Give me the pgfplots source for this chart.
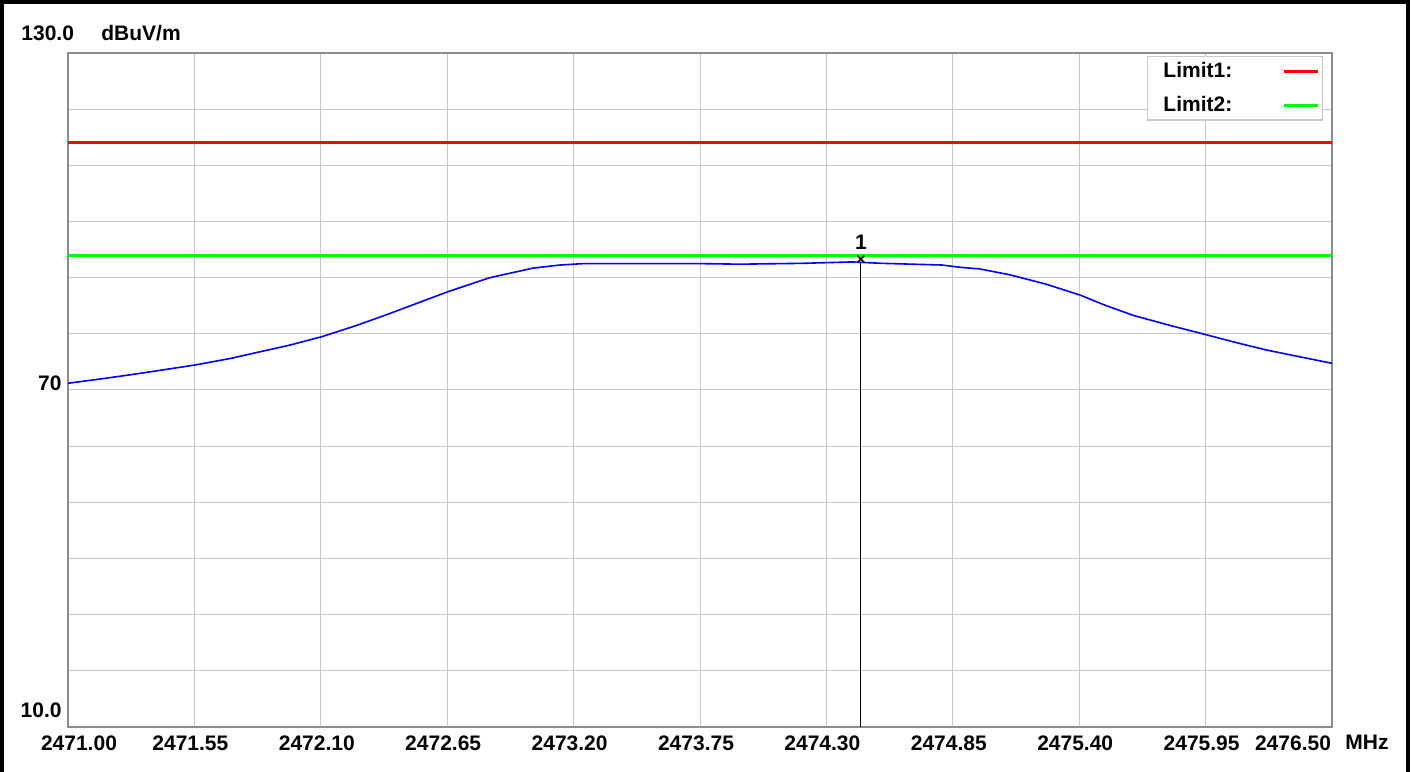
\documentclass[border=0pt]{standalone}
\usepackage{fontspec}
\setmainfont{Liberation Sans}
\usepackage{pgfplots}
\pgfplotsset{compat=1.18}
\definecolor{gridgray}{RGB}{200,200,200}
\definecolor{framegray}{RGB}{140,140,140}
\newcommand{\lbl}{\bfseries\fontsize{10.5}{12}\selectfont}
\begin{document}
\begin{tikzpicture}
\useasboundingbox (-34pt,-22pt) rectangle (672pt,363.5pt);
\begin{axis}[
  at={(0pt,0pt)}, anchor=south west,
  scale only axis, width=632pt, height=337pt,
  xmin=2471, xmax=2476.5, ymin=10, ymax=130,
  xtick={2471,2471.55,2472.1,2472.65,2473.2,2473.75,2474.3,2474.85,2475.4,2475.95,2476.5},
  xticklabels={{\hspace*{15pt}2471.00},2471.55,2472.10,2472.65,2473.20,2473.75,2474.30,2474.85,2475.40,2475.95,{2476.50\hspace*{35pt}}},
  ytick={10,20,...,130}, yticklabels={},
  major tick length=0pt,
  grid=major, grid style={gridgray, line width=0.5pt},
  axis line style={framegray, line width=1.3pt},
  xticklabel style={font=\lbl, xshift=-2pt, inner sep=0pt, anchor=north, yshift=-4pt},
  legend plot pos=right,
  legend style={at={(1,1)}, anchor=north east, xshift=-4.5pt, yshift=-1.5pt,
    draw=gridgray, line width=0.6pt, fill=white, font=\lbl,
    inner xsep=1.5pt, inner ysep=0.2pt, row sep=2.7pt, column sep=0pt,
    nodes={inner xsep=3pt, inner ysep=2.6pt}},
]
\addplot[blue, line width=0.8pt, forget plot] coordinates {
(2471.000,71.2) (2471.139,71.95) (2471.270,72.7) (2471.400,73.5) (2471.553,74.45)
(2471.705,75.6) (2471.835,76.8) (2471.966,78.0) (2472.105,79.5) (2472.249,81.4)
(2472.379,83.3) (2472.510,85.3) (2472.653,87.5) (2472.836,90.0) (2473.023,91.7)
(2473.141,92.25) (2473.241,92.5) (2473.750,92.5) (2473.924,92.4) (2474.194,92.55)
(2474.411,92.8) (2474.542,92.55) (2474.803,92.25) (2474.881,91.85) (2474.968,91.55)
(2475.099,90.5) (2475.251,88.9) (2475.404,86.9) (2475.512,85.1) (2475.634,83.3)
(2475.795,81.5) (2475.956,79.8) (2476.087,78.4) (2476.217,77.1) (2476.361,75.9)
(2476.500,74.75)};
\addplot[red, line width=1.4pt] coordinates {(2471,114) (2476.5,114)};
\addlegendentry{\makebox[60pt][l]{\hspace*{3.5pt}Limit1:}}
\addplot[green, line width=1.4pt] coordinates {(2471,94) (2476.5,94)};
\addlegendentry{\makebox[60pt][l]{\hspace*{3.5pt}Limit2:}}
\addplot[black, line width=0.6pt, forget plot] coordinates {(2474.45,92.8) (2474.45,10)};
\addplot[black, only marks, mark=x, mark size=2.5pt, mark options={line width=0.8pt}, forget plot] coordinates {(2474.45,93.3)};
\node[font=\lbl, anchor=south, inner sep=0pt] at (axis cs:2474.45,94.9) {1};
\end{axis}
\draw[line width=2pt] (-33pt,-23pt) -- (-33pt,362.5pt) -- (669.75pt,362.5pt) -- (669.75pt,-23pt);
\node[font=\lbl, anchor=west, inner sep=0pt] at (-23.5pt,346.75pt) {130.0};
\node[font=\lbl, anchor=west, inner sep=0pt] at (16.5pt,346.75pt) {dBuV/m};
\node[font=\lbl, anchor=east, inner sep=0pt] at (-3pt,172pt) {70};
\node[font=\lbl, anchor=east, inner sep=0pt] at (-3pt,8.5pt) {10.0};
\node[font=\lbl, anchor=west, inner sep=0pt] at (638.5pt,-7.75pt) {MHz};
\end{tikzpicture}
\end{document}
